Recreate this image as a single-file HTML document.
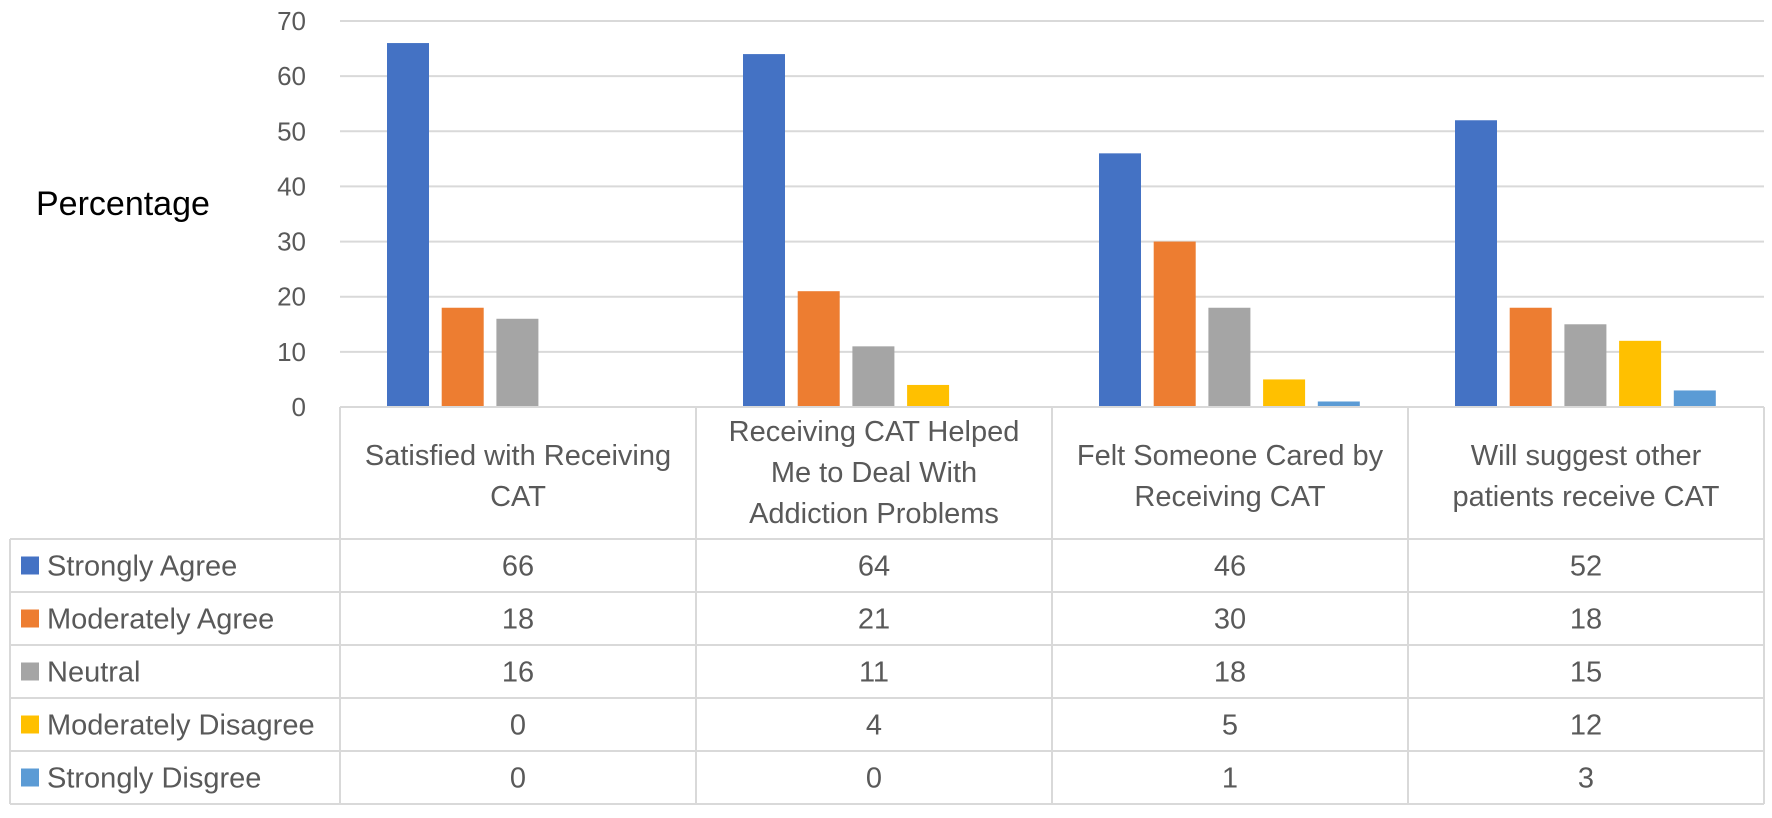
<!DOCTYPE html>
<html><head><meta charset="utf-8">
<style>
body{margin:0;background:#fff;}
svg text{font-family:"Liberation Sans",sans-serif;}
</style></head>
<body>
<svg id="chart" width="1772" height="813" viewBox="0 0 1772 813" xmlns="http://www.w3.org/2000/svg">
<text x="36" y="215" font-size="34" fill="#000">Percentage</text>
<g id="grid"></g>
<g id="bars"></g>
<g id="table"></g>
</svg>
<script>
const categories = [["Satisfied with Receiving","CAT"],["Receiving CAT Helped","Me to Deal With","Addiction Problems"],["Felt Someone Cared by","Receiving CAT"],["Will suggest other","patients receive CAT"]];
const seriesNames = ["Strongly Agree","Moderately Agree","Neutral","Moderately Disagree","Strongly Disgree"];
const seriesColors = ["#4472c4","#ed7d31","#a5a5a5","#ffc000","#5b9bd5"];
const stronglyAgree = [66,64,46,52];
const moderatelyAgree = [18,21,30,18];
const neutral = [16,11,18,15];
const moderatelyDisagree = [0,4,5,12];
const stronglyDisagree = [0,0,1,3];
const yTicks = [0,10,20,30,40,50,60,70];

const series = [stronglyAgree, moderatelyAgree, neutral, moderatelyDisagree, stronglyDisagree];
const NS = "http://www.w3.org/2000/svg";
const plotLeft = 340, colW = 356, y0 = 407, y70 = 21, yMax = 70;
const tableLeft = 10, headerBottom = 539, rowH = 53;
const yScale = v => y0 - (v / yMax) * (y0 - y70);
const xCat = i => plotLeft + i * colW;
function mk(tag, attrs, parent){const e=document.createElementNS(NS,tag);for(const k in attrs)e.setAttribute(k,attrs[k]);parent.appendChild(e);return e;}
const grid = document.getElementById('grid');
const bars = document.getElementById('bars');
const table = document.getElementById('table');
const right = xCat(categories.length);

yTicks.forEach(t => {
  if (t > 0) {
    const l = mk('line',{x1:plotLeft,x2:right,y1:yScale(t),y2:yScale(t),stroke:'#d9d9d9','stroke-width':2},grid);
    
    
  }
  const tx = mk('text',{x:306,y:yScale(t)+9,'font-size':26,fill:'#595959','text-anchor':'end'},grid);
  tx.textContent = t;
  
  
});

const barW = 42, step = 54.7, off = 47;
series.forEach((vals, s) => {
  vals.forEach((v, i) => {
    if (v <= 0) return;
    const r = mk('rect',{x:xCat(i)+off+s*step,y:yScale(v),width:barW,height:y0-yScale(v),fill:seriesColors[s]},bars);
    
    
  });
});

const st = {stroke:'#d9d9d9','stroke-width':2,fill:'none'};
const tb = y0, bottom = headerBottom + rowH*5;
for (let i=0;i<=categories.length;i++){
  const l = mk('line',Object.assign({x1:xCat(i),x2:xCat(i),y1:tb,y2:bottom},st),table);
  
  
}
const ll = mk('line',Object.assign({x1:tableLeft,x2:tableLeft,y1:headerBottom,y2:bottom},st),table);


const tl = mk('line',Object.assign({x1:plotLeft,x2:right,y1:tb,y2:tb},st),table);


for (let r=0;r<=5;r++){
  const y = headerBottom + r*rowH;
  const l = mk('line',Object.assign({x1:tableLeft,x2:right,y1:y,y2:y},st),table);
  
  
}
categories.forEach((lines,i)=>{
  const cx = xCat(i)+colW/2;
  const startY = lines.length===3 ? 441 : 465;
  lines.forEach((ln,k)=>{
    const t = mk('text',{x:cx,y:startY+k*41,'font-size':29,fill:'#595959','text-anchor':'middle'},table);
    t.textContent = ln;
    
    
  });
});
series.forEach((vals,s)=>{
  const cy = headerBottom + s*rowH + rowH/2;
  const sw = mk('rect',{x:21,y:cy-9,width:18,height:18,fill:seriesColors[s]},table);
  
  
  const lt = mk('text',{x:47,y:cy+10,'font-size':29,fill:'#595959'},table);
  lt.textContent = seriesNames[s];
  
  
  vals.forEach((v,i)=>{
    const t = mk('text',{x:xCat(i)+colW/2,y:cy+10,'font-size':29,fill:'#595959','text-anchor':'middle'},table);
    t.textContent = v;
    
    
  });
});
</script>
</body></html>
